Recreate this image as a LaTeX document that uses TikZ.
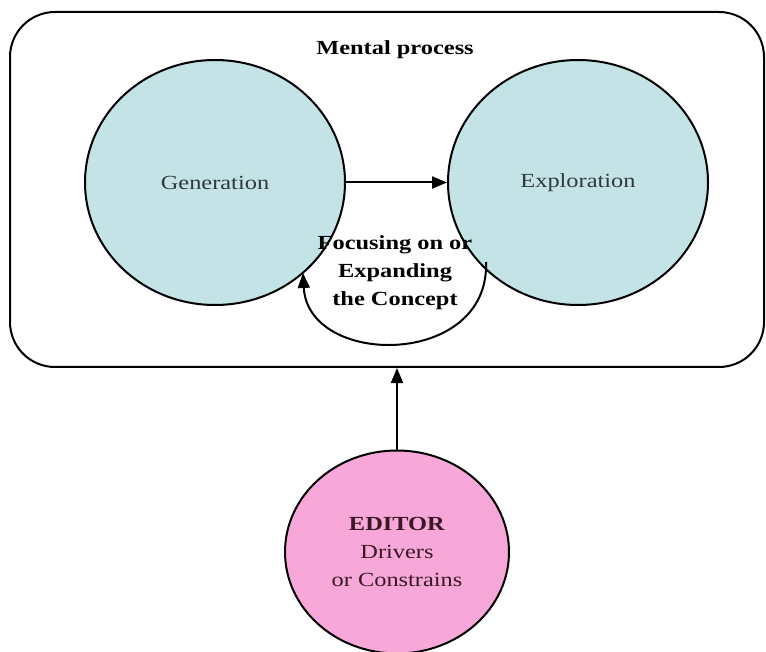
\documentclass[tikz,border=0pt]{standalone}
\usepackage{fontspec}
\setmainfont[FakeStretch=1.22]{Liberation Serif}
\usetikzlibrary{arrows.meta,shapes.geometric}
\definecolor{tealfill}{HTML}{C4E3E6}
\definecolor{pinkfill}{HTML}{F7A8D8}
\definecolor{maroon}{HTML}{3A1828}
\definecolor{graytext}{HTML}{2E3A3C}
\tikzset{
  bubble/.style={ellipse,draw=black,line width=2pt,inner sep=0pt},
  conn/.style={line width=2pt,-{Triangle[length=15pt,width=12pt]}},
  txt/.style={font=\fontsize{20}{28}\selectfont,align=center}
}
\begin{document}
\begin{tikzpicture}[x=1pt,y=-1pt]
\useasboundingbox (0,0) rectangle (766,652);
\node[draw=black,line width=2pt,rounded corners=45pt,minimum width=754pt,minimum height=355pt,inner sep=0pt] (box) at (387,189.5) {};
\node[txt,font=\bfseries\fontsize{20}{28}\selectfont] (title) at (395,50) {Mental process};
\node[bubble,fill=tealfill,minimum width=260pt,minimum height=245pt,text=graytext,txt] (gen) at (215,182.5) {Generation};
\node[bubble,fill=tealfill,minimum width=260pt,minimum height=245pt,text=graytext,txt] (exp) at (578,182.5) {Exploration};
\draw[conn] (gen.east) -- (exp.west);
\coordinate (cs) at (486,262);
\coordinate (ce) at (303,273);
\draw[conn] (cs) .. controls (490,368) and (308,368) .. (ce);
\node[txt,font=\bfseries\fontsize{20}{28}\selectfont] (focus) at (395,273) {Focusing on or\\Expanding\\the Concept};
\node[bubble,fill=pinkfill,minimum width=224pt,minimum height=203pt,text=maroon,txt] (ed) at (397,552) {\textbf{EDITOR}\\Drivers\\or Constrains};
\draw[conn] (ed.north) -- (box.south -| ed.north);
\end{tikzpicture}
\end{document}
